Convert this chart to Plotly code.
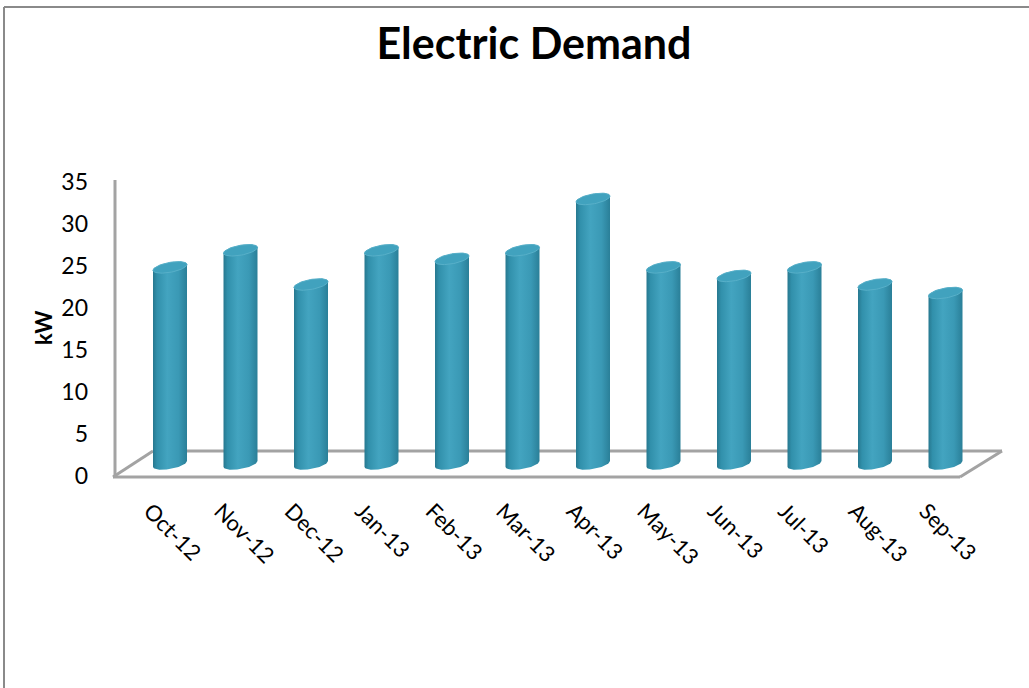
import numpy as np
import plotly.graph_objects as go

# ---- data -------------------------------------------------------------
months = ["Oct-12", "Nov-12", "Dec-12", "Jan-13", "Feb-13", "Mar-13",
          "Apr-13", "May-13", "Jun-13", "Jul-13", "Aug-13", "Sep-13"]
demand_kw = [23, 25, 21, 25, 24, 25, 31, 23, 22, 23, 21, 20]
y_ticks = [0, 5, 10, 15, 20, 25, 30, 35]

# ---- geometry (pixels) ------------------------------------------------
W, H = 1029, 688
PLOT_L, PLOT_R, PLOT_T, PLOT_B = 100, 1020, 150, 482
SLOT_PX = 70.5          # distance between neighbouring categories
TICK0_PX = 150          # first category tick on the front edge of the floor
DEPTH_DX, DEPTH_DY = 40, 26   # back edge offset of the floor vs. front edge
FRONT_PX = 477          # front edge of the floor
Y0_PX, Y_SCALE = 476, 8.4     # value axis (labels): zero and px per kW
BAR_BASE_PX = FRONT_PX - DEPTH_DY / 2   # cylinders stand mid-depth
BAR_SCALE = 8.55
BAR_R_PX = 17           # cylinder radius
CAP_B_PX = 5            # vertical half-axis of the elliptic caps
CAP_TILT = 0.17         # caps rise slightly to the right

FONT = "Lato"
GRID_GREY = "#a3a3a3"


def xd(px):
    return (px - TICK0_PX) / SLOT_PX


def yd(py):
    return (Y0_PX - py) / Y_SCALE


def xp(px):
    return (px - PLOT_L) / (PLOT_R - PLOT_L)


def yp(py):
    return (PLOT_B - py) / (PLOT_B - PLOT_T)


x_range = [xd(PLOT_L), xd(PLOT_R)]
y_range = [yd(PLOT_B), yd(PLOT_T)]
y2_range = [(BAR_BASE_PX - PLOT_B) / BAR_SCALE, (BAR_BASE_PX - PLOT_T) / BAR_SCALE]

bar_shift = (DEPTH_DX / 2) / SLOT_PX
a = BAR_R_PX / SLOT_PX


def ellipse(cx, value, theta):
    dx = BAR_R_PX * np.cos(theta)
    dy_px = -CAP_B_PX * np.sin(theta) - CAP_TILT * dx
    return cx + dx / SLOT_PX, value - dy_px / BAR_SCALE


fig = go.Figure()

body_scale = [[0.0, "#27788f"], [0.12, "#3190ab"], [0.42, "#43a4c0"],
              [0.75, "#3a99b5"], [1.0, "#2a7f98"]]

for i, (m, v) in enumerate(zip(months, demand_kw)):
    cx = i + bar_shift
    bx, by = ellipse(cx, 0.0, np.linspace(np.pi, 2 * np.pi, 40))
    tx, ty = ellipse(cx, v, np.linspace(0, np.pi, 40))
    fig.add_trace(go.Scatter(
        x=np.concatenate([bx, tx]), y=np.concatenate([by, ty]),
        fill="toself", mode="lines", line=dict(width=0),
        fillgradient=dict(type="horizontal", colorscale=body_scale,
                          start=cx - a, stop=cx + a),
        yaxis="y2", showlegend=False, hoverinfo="text",
        text=f"{m}: {v} kW"))
    cx_, cy_ = ellipse(cx, v, np.linspace(0, 2 * np.pi, 60))
    fig.add_trace(go.Scatter(
        x=cx_, y=cy_, fill="toself", mode="lines",
        line=dict(width=1, color="#58b0c9"), fillcolor="#41a2be",
        yaxis="y2", showlegend=False, hoverinfo="skip"))

# floor outline and value axis line
fl, fr = 113, 960
floor = [
    (fl, FRONT_PX, fr, FRONT_PX),
    (fl + DEPTH_DX, FRONT_PX - DEPTH_DY, fr + DEPTH_DX + 2, FRONT_PX - DEPTH_DY),
    (fl, FRONT_PX, fl + DEPTH_DX, FRONT_PX - DEPTH_DY),
    (fr, FRONT_PX, fr + DEPTH_DX + 2, FRONT_PX - DEPTH_DY),
    (115, FRONT_PX, 115, 180),
]
shapes = []
for x0, y0, x1, y1 in floor:
    shapes.append(dict(type="line", xref="x", yref="y", layer="below",
                       x0=xd(x0), y0=yd(y0), x1=xd(x1), y1=yd(y1),
                       line=dict(color=GRID_GREY, width=3)))
# chart frame: left and top edges
for x0, y0, x1, y1 in [(4, 7, 4, H), (4, 7, W, 7)]:
    shapes.append(dict(type="line", xref="paper", yref="paper",
                       x0=xp(x0), y0=yp(y0), x1=xp(x1), y1=yp(y1),
                       line=dict(color="#8a8a8a", width=2)))

fig.update_layout(
    width=W, height=H,
    margin=dict(l=PLOT_L, r=W - PLOT_R, t=PLOT_T, b=H - PLOT_B),
    paper_bgcolor="white", plot_bgcolor="white",
    font=dict(family=FONT, color="black"),
    title=dict(text="<b>Electric Demand</b>", font=dict(size=43, family=FONT),
               xref="container", x=534 / W, xanchor="center",
               yref="container", y=1 - 44 / H, yanchor="middle"),
    xaxis=dict(range=x_range, tickvals=list(range(len(months))), ticktext=months,
               tickangle=45, showgrid=False, zeroline=False, showline=False,
               ticks="", tickfont=dict(size=22), ticklabelstandoff=11),
    yaxis=dict(range=y_range, tickvals=y_ticks, showgrid=False, zeroline=False,
               showline=False, ticks="", tickfont=dict(size=23),
               ticklabelstandoff=11),
    yaxis2=dict(range=y2_range, overlaying="y", visible=False),
    shapes=shapes,
    annotations=[dict(text="<b>kW</b>", textangle=-90, xref="paper", yref="paper",
                      x=xp(43), y=yp(328), xanchor="center", yanchor="middle",
                      showarrow=False, font=dict(size=22, family=FONT))],
    showlegend=False,
)

fig.write_html("out.html")
